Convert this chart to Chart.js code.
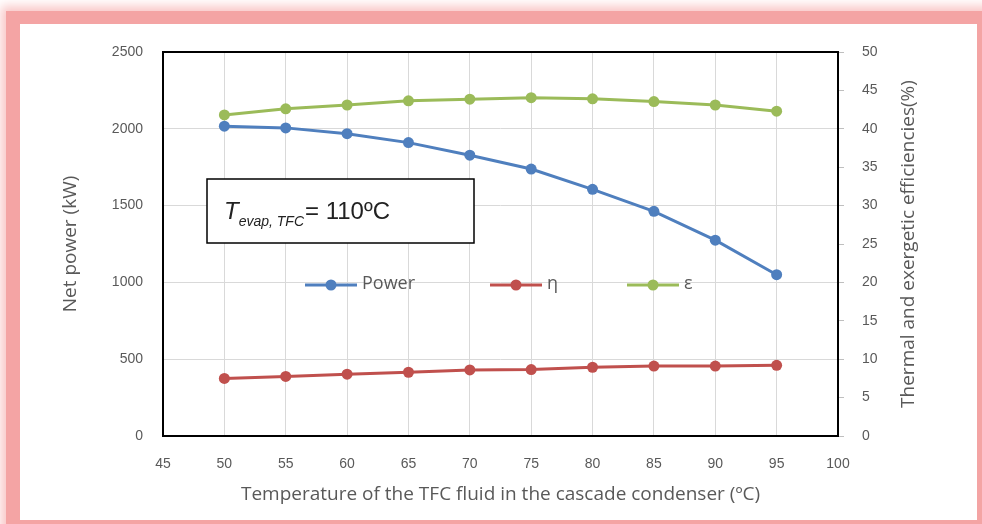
<!DOCTYPE html>
<html>
<head>
<meta charset="utf-8">
<script src="https://cdn.jsdelivr.net/npm/chart.js@4.4.1/dist/chart.umd.min.js"></script>
<style>
html,body{margin:0;padding:0;background:#fff;}
#wrap{position:relative;width:982px;height:524px;overflow:hidden;background:#fff;}
#glow{position:absolute;left:6px;top:11px;width:990px;height:530px;background:#f4a4a4;box-shadow:0 0 10px 5px #f9c6c6;}
#paper{position:absolute;left:20px;top:24px;width:957px;height:496px;background:#fff;}
#chart{position:absolute;left:0;top:0;}
</style>
</head>
<body>
<div id="wrap">
  <div id="glow"></div>
  <div id="paper"></div>
  <canvas id="chart" width="982" height="524"></canvas>
</div>
<script>
/* data */
const temps = [50, 55, 60, 65, 70, 75, 80, 85, 90, 95];
const power = [2017, 2006, 1968, 1910, 1828, 1738, 1606, 1463, 1275, 1050];
const eta   = [7.5, 7.75, 8.05, 8.3, 8.6, 8.65, 8.95, 9.1, 9.1, 9.2];
const eps   = [41.8, 42.6, 43.1, 43.65, 43.85, 44.05, 43.9, 43.55, 43.1, 42.3];

const seriesNames = ["Power", "η", "ε"];
const xTitle = "Temperature of the TFC fluid in the cascade condenser (ºC)";
const yTitle = "Net power (kW)";
const y1Title = "Thermal and exergetic efficiencies(%)";
const noteMain = "T";
const noteSub = "evap, TFC";
const noteRest = "= 110ºC";

const grey = "#595959";
const tickFont = {family:"'Liberation Sans', sans-serif", size:14};
const titleFont = {family:"'Open Sans', sans-serif", size:19};

function pts(ys){
  return temps.map((t,i)=>({x:t, y:ys[i]}));
}

function plain(v){
  return String(v);
}

/* frame, legend, note box, right title */
const extras = {
  id:"extras",
  beforeDatasetsDraw(chart){
    const a = chart.chartArea, c = chart.ctx;
    c.save();
    c.strokeStyle = "#000";
    c.lineWidth = 2;
    c.strokeRect(a.left, a.top, a.right-a.left, a.bottom-a.top);
    c.restore();
  },
  afterDraw(chart){
    const a = chart.chartArea, c = chart.ctx;
    c.save();

    // legend inside plot
    const ly = 285;
    const lx = [305, 490, 627];
    chart.data.datasets.forEach((ds,i)=>{
      c.strokeStyle = ds.borderColor;
      c.lineWidth = 3;
      c.beginPath();
      c.moveTo(lx[i], ly);
      c.lineTo(lx[i]+52, ly);
      c.stroke();
      c.fillStyle = ds.borderColor;
      c.beginPath();
      c.arc(lx[i]+26, ly, 5.5, 0, Math.PI*2);
      c.fill();
      c.fillStyle = grey;
      c.font = "18px 'Open Sans', sans-serif";
      c.textBaseline = "middle";
      c.textAlign = "left";
      c.fillText(ds.label, lx[i]+57, ly-1);
    });

    // note box
    c.fillStyle = "#fff";
    c.fillRect(207, 179, 267, 64);
    c.strokeStyle = "#000";
    c.lineWidth = 1.5;
    c.strokeRect(207, 179, 267, 64);
    c.fillStyle = "#222";
    c.textBaseline = "alphabetic";
    let x = 224;
    c.font = "italic 24px 'Liberation Sans', sans-serif";
    c.fillText(noteMain, x, 219);
    x += c.measureText(noteMain).width;
    c.font = "italic 14px 'Liberation Sans', sans-serif";
    c.fillText(noteSub, x, 226);
    x += c.measureText(noteSub).width + 1;
    c.font = "24px 'Liberation Sans', sans-serif";
    c.fillText(noteRest, x, 219);

    // right axis title, reading upward
    c.translate(909, (a.top+a.bottom)/2);
    c.rotate(-Math.PI/2);
    c.fillStyle = grey;
    c.font = "19px 'Open Sans', sans-serif";
    c.textAlign = "center";
    c.textBaseline = "middle";
    c.fillText(y1Title, 0, 0);
    c.restore();
  }
};

new Chart(document.getElementById("chart"), {
  type:"line",
  data:{
    datasets:[
      {label:seriesNames[0], data:pts(power), yAxisID:"y",
       borderColor:"#4f7fbe", backgroundColor:"#4f7fbe"},
      {label:seriesNames[1], data:pts(eta), yAxisID:"y1",
       borderColor:"#c0504d", backgroundColor:"#c0504d"},
      {label:seriesNames[2], data:pts(eps), yAxisID:"y1",
       borderColor:"#9bbb59", backgroundColor:"#9bbb59"}
    ]
  },
  options:{
    responsive:false,
    animation:false,
    devicePixelRatio:1,
    layout:{padding:{left:20, top:52, right:5, bottom:4}},
    elements:{
      line:{borderWidth:3, tension:0},
      point:{radius:5.5, borderWidth:0, hoverRadius:5.5}
    },
    plugins:{legend:{display:false}, tooltip:{enabled:false}},
    scales:{
      x:{
        type:"linear", min:45, max:100,
        ticks:{stepSize:5, color:grey, font:tickFont, padding:20, callback:plain},
        grid:{color:"#d9d9d9", drawTicks:false},
        border:{display:false},
        title:{display:true, text:xTitle, color:grey, font:titleFont, padding:{top:0, bottom:14}},
        afterFit(s){ s.height = 84; }
      },
      y:{
        position:"left", min:0, max:2500,
        ticks:{stepSize:500, color:grey, font:tickFont, padding:20, callback:plain},
        grid:{color:"#d9d9d9", drawTicks:false},
        border:{display:false},
        title:{display:true, text:yTitle, color:grey, font:titleFont, padding:{top:39, bottom:0}},
        afterFit(s){ s.width = 143; }
      },
      y1:{
        position:"right", min:0, max:50,
        ticks:{stepSize:5, color:grey, font:tickFont, padding:18, callback:plain},
        grid:{drawOnChartArea:false, drawTicks:true, tickLength:6, tickColor:"#bfbfbf"},
        border:{display:false},
        afterFit(s){ s.width = 139; }
      }
    }
  },
  plugins:[extras]
});
</script>
</body>
</html>
